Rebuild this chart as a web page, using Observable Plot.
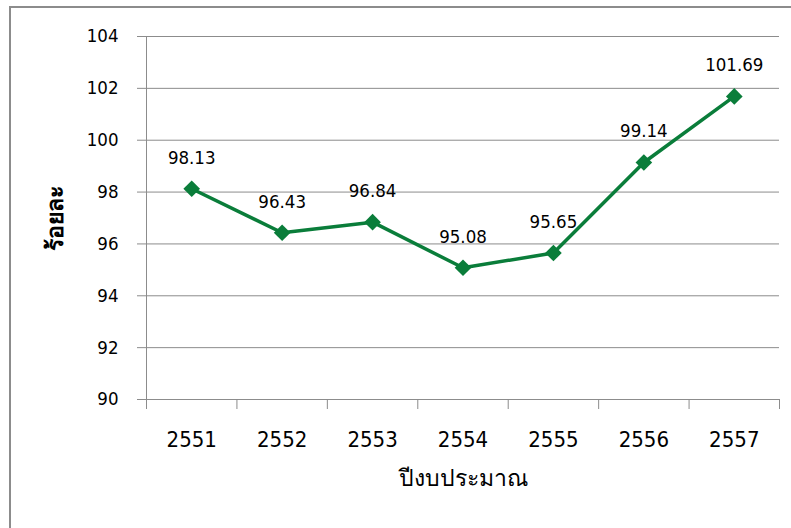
<!DOCTYPE html>
<html>
<head>
<meta charset="utf-8">
<script src="https://cdn.jsdelivr.net/npm/d3@7"></script>
<script src="https://cdn.jsdelivr.net/npm/@observablehq/plot@0.6"></script>
<style>
  html, body { margin: 0; padding: 0; background: #fff; overflow: hidden; }
  #wrap { position: relative; width: 791px; height: 528px; overflow: hidden; }
  #frame { position: absolute; left: 9px; top: 6px; width: 900px; height: 700px;
           border-left: 2px solid #8c8c8c; border-top: 2px solid #8c8c8c; }
  #chart { position: absolute; left: 0; top: 0; }
  #chart svg g[aria-label="y-axis label"] text { font-weight: bold; }
</style>
</head>
<body>
<div id="wrap"><div id="frame"></div><div id="chart"></div></div>
<script>
const years = ["2551", "2552", "2553", "2554", "2555", "2556", "2557"];
const values = [98.13, 96.43, 96.84, 95.08, 95.65, 99.14, 101.69];
const yTicks = [90, 92, 94, 96, 98, 100, 102, 104];
const xTitle = "ปีงบประมาณ";
const yTitle = "ร้อยละ";

const data = years.map((y, i) => ({year: y, idx: i + 0.5, value: values[i]}));
const bounds = d3.range(years.length + 1);
const centers = years.map((y, i) => i + 0.5);

const green = "#0a7d3a";
const gray = "#8c8c8c";
const font = "'DejaVu Sans Condensed', 'DejaVu Sans', Tahoma, sans-serif";

const chart = Plot.plot({
  width: 791,
  height: 528,
  marginLeft: 146,
  marginRight: 12,
  marginTop: 36,
  marginBottom: 129,
  style: {fontFamily: font, fontSize: "18px", color: "#000", background: "transparent"},
  x: {type: "linear", domain: [0, years.length]},
  y: {domain: [90, 104]},
  marks: [
    Plot.gridY(yTicks, {stroke: gray, strokeOpacity: 1, strokeWidth: 1}),
    Plot.ruleX([0], {stroke: gray, strokeWidth: 1}),
    Plot.ruleY([90], {stroke: gray, strokeWidth: 1}),
    Plot.axisY({ticks: yTicks, tickSize: 9, tickPadding: 19, stroke: gray, strokeOpacity: 1,
      tickFormat: d => d, fontSize: 18.5, label: null}),
    Plot.axisY({ticks: [], tickSize: 0, fontSize: 23, label: yTitle, labelAnchor: "center", labelArrow: "none", labelOffset: 100}),
    Plot.axisX({ticks: bounds, tickSize: 10, tickFormat: () => "", stroke: gray, strokeOpacity: 1, label: null}),
    Plot.axisX({ticks: centers, tickSize: 0, tickPadding: 32, fontSize: 22,
      tickFormat: d => years[Math.round(d - 0.5)], label: null}),
    Plot.axisX({ticks: [], tickSize: 0, fontSize: 23, dx: 6, label: xTitle, labelAnchor: "center", labelArrow: "none", labelOffset: 86}),
    Plot.line(data, {x: "idx", y: "value", stroke: green, strokeWidth: 3.5}),
    Plot.dot(data, {x: "idx", y: "value", symbol: d3.symbolDiamond2, r: 7.5, fill: green, stroke: "none"}),
    Plot.text(data, {x: "idx", y: "value", text: d => d.value.toFixed(2), dy: -31, fontSize: 18.5, fill: "#000"})
  ]
});
document.getElementById("chart").appendChild(chart);
</script>
</body>
</html>
